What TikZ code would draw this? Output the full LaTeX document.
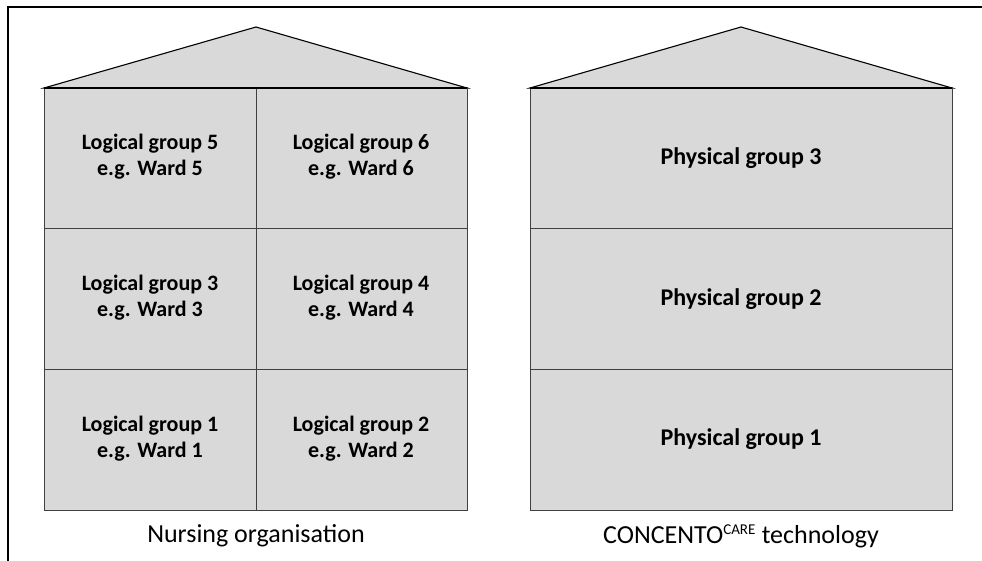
\documentclass[tikz,border=0pt]{standalone}
\usepackage{fontspec}
\setmainfont{Carlito}
\definecolor{boxfill}{HTML}{D9D9D9}
\definecolor{edge}{HTML}{404040}
\begin{document}
\begin{tikzpicture}[x=1pt,y=-1pt,
  roof/.style={fill=boxfill,draw=black,line width=1.1pt,line join=miter},
  house/.style={fill=boxfill,draw=edge,line width=1pt},
  divider/.style={draw=edge,line width=1pt},
  celltext/.style={font=\fontsize{22}{26}\selectfont\bfseries,align=center},
  phystext/.style={font=\fontsize{24}{28}\selectfont\bfseries,align=center},
  caption/.style={font=\fontsize{26}{30}\selectfont}]
\useasboundingbox (0,0) rectangle (982,561);
\draw[line width=2pt] (8,561) -- (8,7) -- (982,7);
% left house
\coordinate (la) at (256,27);
\path[roof] (44,88) -- (la) -- (467,88) -- cycle;
\path[house] (44,88) rectangle (467,510);
\draw[divider] (44,229) -- (467,229);
\draw[divider] (44,369) -- (467,369);
\draw[divider] (256,88) -- (256,510);
\draw[black,line width=1.1pt] (44,88) -- (467,88);
\node[celltext] (l5) at (150,157) {Logical group 5\\e.g. Ward 5};
\node[celltext] (l6) at (361,157) {Logical group 6\\e.g. Ward 6};
\node[celltext] (l3) at (150,298) {Logical group 3\\e.g. Ward 3};
\node[celltext] (l4) at (361,298) {Logical group 4\\e.g. Ward 4};
\node[celltext] (l1) at (150,439) {Logical group 1\\e.g. Ward 1};
\node[celltext] (l2) at (361,439) {Logical group 2\\e.g. Ward 2};
\node[caption] (lc) at (256,536) {Nursing organisation};
% right house
\coordinate (ra) at (741,27);
\path[roof] (530,88) -- (ra) -- (952,88) -- cycle;
\path[house] (530,88) rectangle (952,510);
\draw[divider] (530,229) -- (952,229);
\draw[divider] (530,369) -- (952,369);
\draw[black,line width=1.1pt] (530,88) -- (952,88);
\node[phystext] (p3) at (741,158) {Physical group 3};
\node[phystext] (p2) at (741,299) {Physical group 2};
\node[phystext] (p1) at (741,439) {Physical group 1};
\node[caption] (rc) at (741,536) {CONCENTO\textsuperscript{\fontsize{15}{16}\selectfont CARE} technology};
\end{tikzpicture}
\end{document}
